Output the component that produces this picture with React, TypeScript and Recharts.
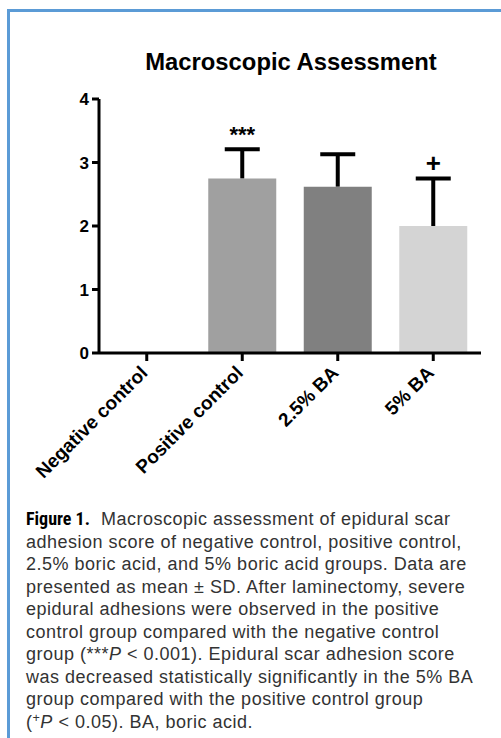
import React from 'react';
import { BarChart, Bar, XAxis, YAxis, Cell } from 'recharts';

const categories = ['Negative control', 'Positive control', '2.5% BA', '5% BA'];
const means = [0, 2.75, 2.62, 2.0];
const sds = [0, 0.46, 0.51, 0.75];
const colors = ['#ffffff', '#a0a0a0', '#808080', '#d4d4d4'];
const marks = ['', '***', '', '+'];
const yTicks = [0, 1, 2, 3, 4];

const data = categories.map((name, i) => ({ name, mean: means[i], sd: sds[i], mark: marks[i] }));

const FONT = "'Liberation Sans', Arial, Helvetica, sans-serif";

const ErrorShape = (props: any) => {
  const { x, y, width, height, payload } = props;
  if (!height || height <= 0) return <g />;
  const cx = x + width / 2;
  const mark = payload?.mark || '';
  const isPlus = mark === '+';
  return (
    <g>
      <line x1={cx} y1={y + height} x2={cx} y2={y} stroke="#000" strokeWidth={4} />
      <line x1={cx - 17.5} y1={y} x2={cx + 17.5} y2={y} stroke="#000" strokeWidth={4} />
      {mark ? (
        <text x={cx} y={isPlus ? y - 6 : y - 7} textAnchor="middle" fontWeight="bold" fontSize={isPlus ? 26 : 22} fill="#000">
          {mark}
        </text>
      ) : null}
    </g>
  );
};

const XTick = (props: any) => {
  const { x, y, payload } = props;
  return (
    <g transform={`translate(${x + 2},${y + 13})`}>
      <text x={0} y={0} textAnchor="end" transform="rotate(-45)" fontWeight="bold" fontSize={19} fill="#000">
        {payload.value}
      </text>
    </g>
  );
};

const captionLines: React.ReactNode[] = [
  <><span style={{ fontFamily: "'Liberation Sans Narrow', 'Roboto Condensed', " + FONT, fontWeight: 'bold', color: '#000', letterSpacing: 0 }}>Figure 1.</span>{'\u00a0 Macroscopic assessment of epidural scar'}</>,
  'adhesion score of negative control, positive control,',
  '2.5% boric acid, and 5% boric acid groups. Data are',
  'presented as mean \u00b1 SD. After laminectomy, severe',
  'epidural adhesions were observed in the positive',
  'control group compared with the negative control',
  <>group (***<i>P</i> &lt; 0.001). Epidural scar adhesion score</>,
  'was decreased statistically significantly in the 5% BA',
  'group compared with the positive control group',
  <>(<sup style={{ fontSize: '0.7em', verticalAlign: '0.45em', lineHeight: 0 }}>+</sup><i>P</i> &lt; 0.05). BA, boric acid.</>,
];

export default function App() {
  return (
    <div style={{ position: 'absolute', left: 0, top: 0, width: 501, height: 738, background: '#fff', overflow: 'hidden', fontFamily: FONT }}>
      <div style={{ position: 'absolute', left: 7, top: 9, width: 600, height: 800, borderLeft: '3px solid #5b9bd6', borderTop: '3px solid #5b9bd6' }} />
      <div style={{ position: 'absolute', left: 90, top: 50, width: 402, textAlign: 'center', fontSize: 23.8, lineHeight: '23.5px', fontWeight: 'bold', color: '#000' }}>
        Macroscopic Assessment
      </div>
      <div style={{ position: 'absolute', left: 0, top: 0 }}>
        <BarChart width={501} height={500} data={data} margin={{ top: 99, right: 20, left: 39, bottom: 17 }} barCategoryGap="14.4%">
          <XAxis
            dataKey="name"
            height={130}
            interval={0}
            axisLine={{ stroke: '#000', strokeWidth: 3 }}
            tickLine={{ stroke: '#000', strokeWidth: 3 }}
            tickSize={8}
            tickMargin={0}
            tick={<XTick />}
          />
          <YAxis
            width={60}
            domain={[0, 4]}
            ticks={yTicks}
            interval={0}
            axisLine={{ stroke: '#000', strokeWidth: 3 }}
            tickLine={{ stroke: '#000', strokeWidth: 3 }}
            tickSize={7}
            tickMargin={3}
            tick={{ fill: '#000', fontSize: 17, fontWeight: 'bold' }}
          />
          <Bar dataKey="mean" stackId="a" isAnimationActive={false}>
            {data.map((d, i) => (
              <Cell key={d.name} fill={colors[i]} />
            ))}
          </Bar>
          <Bar dataKey="sd" stackId="a" isAnimationActive={false} fill="none" shape={<ErrorShape />} />
        </BarChart>
      </div>
      <div style={{ position: 'absolute', left: 26, top: 508, width: 475, fontSize: 18, lineHeight: '22.5px', letterSpacing: '0.5px', color: '#333', whiteSpace: 'nowrap' }}>
        {captionLines.map((l, i) => (
          <div key={i}>{l}</div>
        ))}
      </div>
    </div>
  );
}
